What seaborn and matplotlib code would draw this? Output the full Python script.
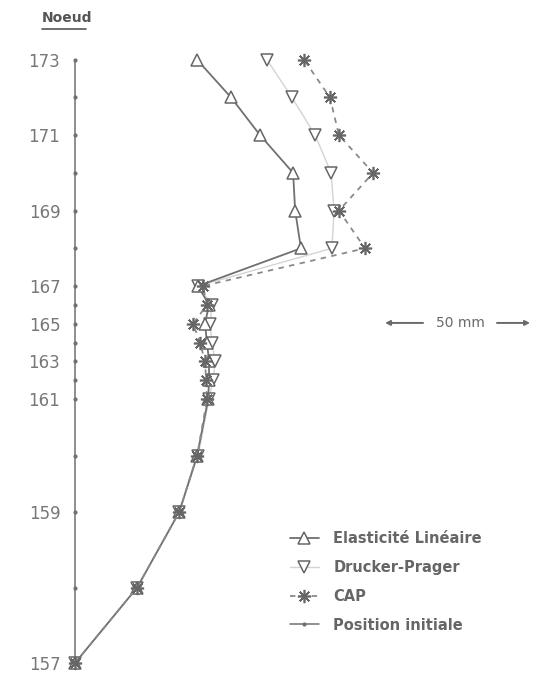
import numpy as np
import pandas as pd
import matplotlib
matplotlib.use("Agg")
import matplotlib.pyplot as plt
from matplotlib.lines import Line2D
import seaborn as sns

# Nodes and their elevation (m) along the pile
nodes = list(range(157, 174))
elevation = [0, 2, 4, 5.5, 7, 7.5, 8, 8.5, 9, 9.5, 10, 11, 12, 13, 14, 15, 16]

# Horizontal displacement (mm) per model
disp_elastic = [0, 21.4, 35.9, 42.1, 45.9, 46.2, 46.2, 45.5, 44.8, 46.2,
                42.4, 77.9, 75.9, 75.2, 63.8, 53.8, 42.1]
disp_drucker = [0, 21.4, 35.9, 42.4, 46.2, 47.6, 48.3, 47.2, 46.6, 47.2,
                42.4, 88.6, 89.3, 88.3, 82.8, 74.8, 66.2]
disp_cap = [0, 21.4, 35.9, 42.1, 45.5, 45.2, 44.8, 43.1, 40.7, 45.5,
            44.1, 100.0, 91.0, 102.8, 91.0, 87.9, 79.0]
disp_initial = [0] * len(nodes)

tick_nodes = [n for n in nodes if n % 2 == 1]
tick_elev = [elevation[nodes.index(n)] for n in tick_nodes]

df = pd.DataFrame({"noeud": nodes, "z": elevation,
                   "elastic": disp_elastic, "drucker": disp_drucker,
                   "cap": disp_cap, "initial": disp_initial})

sns.set_style("white")
plt.rcParams["font.family"] = ["DejaVu Sans"]

fig = plt.figure(figsize=(5.37, 6.76), dpi=100)
ax = fig.add_axes([0.12, 0.0, 0.88, 1.0])

sns.lineplot(data=df, x="elastic", y="z", orient="y", sort=False, estimator=None,
             ax=ax, color="#707070", lw=1.3, marker="^", ms=9, mfc="white",
             mec="#666666", mew=1.1, label="Elasticité Linéaire", zorder=3)
sns.lineplot(data=df, x="drucker", y="z", orient="y", sort=False, estimator=None,
             ax=ax, color="#d4d4d4", lw=1.0, marker="v", ms=9, mfc="white",
             mec="#666666", mew=1.1, label="Drucker-Prager", zorder=2)
sns.lineplot(data=df, x="cap", y="z", orient="y", sort=False, estimator=None,
             ax=ax, color="#8a8a8a", lw=1.3, ls=(0, (3, 3)), marker=(8, 2, 0),
             ms=9.5, mec="#666666", mew=1.2, label="CAP", zorder=4)
sns.lineplot(data=df, x="initial", y="z", orient="y", sort=False, estimator=None,
             ax=ax, color="#707070", lw=1.1, marker="o", ms=3, mfc="#707070",
             mec="#707070", mew=0, label="Position initiale", zorder=2)

ax.set_xlim(-3.66, 159.3)
ax.set_ylim(-0.345, 17.586)
ax.set_yticks(tick_elev)
ax.set_yticklabels([str(n) for n in tick_nodes], fontsize=12, color="#777777")
ax.set_xticks([])
ax.tick_params(axis="y", length=0, pad=3)
ax.set_xlabel("")
ax.set_ylabel("")
for s in ax.spines.values():
    s.set_visible(False)
for m in ax.lines:
    m.set_clip_on(False)

# scale bar 50 mm
zs = 9.02
ax.text(132.8, zs, "50 mm", ha="center", va="center", fontsize=10, color="#6a6a6a")
ax.annotate("", xy=(106.9, zs), xytext=(120.0, zs),
            arrowprops=dict(arrowstyle="-|>", color="#6a6a6a", lw=1.4,
                            mutation_scale=7, shrinkA=0, shrinkB=0))
ax.annotate("", xy=(156.9, zs), xytext=(145.5, zs),
            arrowprops=dict(arrowstyle="-|>", color="#6a6a6a", lw=1.4,
                            mutation_scale=7, shrinkA=0, shrinkB=0))

# title "Noeud" underlined
fig.text(0.078, 0.973, "Noeud", fontsize=10, fontweight="bold",
         color="#555555", ha="left", va="center")
fig.add_artist(Line2D([0.078, 0.16], [0.957, 0.957], color="#555555", lw=1.2,
                      transform=fig.transFigure))

leg = ax.legend(loc="upper left", bbox_to_anchor=(0.515, 0.234),
                bbox_transform=fig.transFigure, frameon=False,
                handlelength=2.0, labelspacing=0.95, handletextpad=1.0,
                prop={"weight": "bold", "size": 10.5})
for t in leg.get_texts():
    t.set_color("#666666")

fig.savefig("out.png", dpi=100)
